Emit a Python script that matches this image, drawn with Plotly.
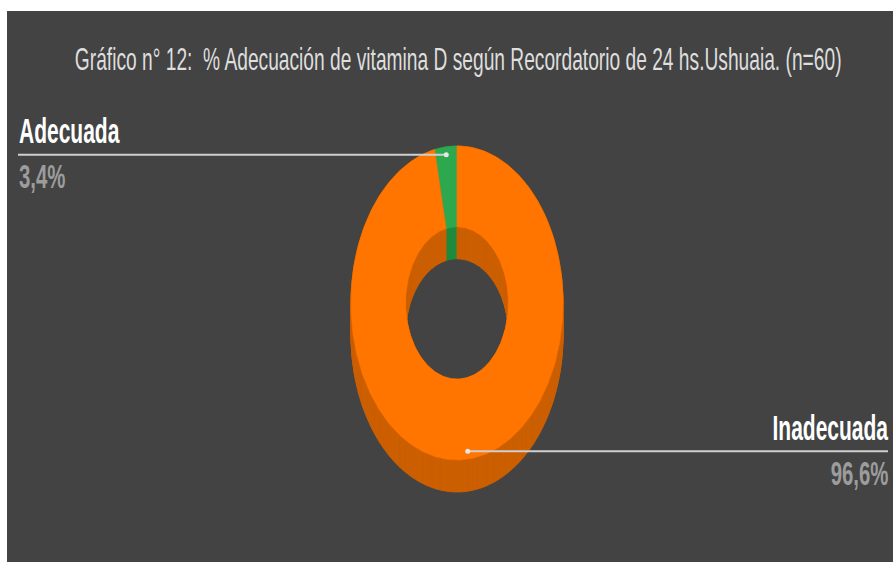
import numpy as np
import plotly.graph_objects as go

# ---- data ----
categorias = ["Adecuada", "Inadecuada"]
porcentajes = [3.4, 96.6]
titulo = "Gráfico n° 12:  % Adecuación de vitamina D según Recordatorio de 24 hs.Ushuaia. (n=60)"

# ---- style / layout ----
W, H = 894, 562
FONDO = "#434343"
COLOR_CARA = ["#2ea84f", "#ff7500"]
COLOR_LADO = ["#1f8a3d", "#cc5f00"]
COLOR_LINEA = "#cfcfcf"
FUENTE = "Liberation Sans, Arial, sans-serif"

# donut geometry (plot units = pixels)
CX, CY = 457.0, 303.0
RX, RY = 106.0, 157.0
HUECO = 0.485
PROF = 32.0
PASO = 1.0  # degrees per wall segment


def punto(theta, esc, dy=0.0):
    t = np.radians(theta)
    return CX + esc * RX * np.sin(t), CY - esc * RY * np.cos(t) + dy


def paredes(t0, t1, esc):
    n = max(2, int(abs(t1 - t0) / PASO) + 1)
    th = np.linspace(t0, t1, n)
    xs, ys = [], []
    for a, b in zip(th[:-1], th[1:]):
        xa, ya = punto(a, esc)
        xb, yb = punto(b, esc)
        xs += [xa, xb, xb, xa, xa, None]
        ys += [ya, yb, yb + PROF, ya + PROF, ya, None]
    return xs, ys


def sector(t0, t1):
    n = max(2, int(abs(t1 - t0) / PASO) + 1)
    th = np.linspace(t0, t1, n)
    xo, yo = punto(th, 1.0)
    xi, yi = punto(th[::-1], HUECO)
    return list(xo) + list(xi) + [xo[0]], list(yo) + list(yi) + [yo[0]]


fig = go.Figure()

total = sum(porcentajes)
cortes = []
inicio = 0.0
for v in porcentajes:
    fin = inicio - v / total * 360.0  # slices run counter-clockwise from 12 o'clock
    cortes.append((inicio, fin))
    inicio = fin

# side walls (outer and inner), darker shade
for (t0, t1), col in zip(cortes, COLOR_LADO):
    for esc in (1.0, HUECO):
        xs, ys = paredes(t0, t1, esc)
        fig.add_trace(go.Scatter(x=xs, y=ys, mode="lines", fill="toself",
                                 fillcolor=col, line=dict(color=col, width=0.8),
                                 hoverinfo="skip", showlegend=False))

# top face of each slice
for (t0, t1), col in zip(cortes, COLOR_CARA):
    xs, ys = sector(t0, t1)
    fig.add_trace(go.Scatter(x=xs, y=ys, mode="lines", fill="toself",
                             fillcolor=col, line=dict(color=col, width=0.6),
                             hoverinfo="skip", showlegend=False))

# leader lines and labels
anotaciones = []
for cat, v, (t0, t1) in zip(categorias, porcentajes, cortes):
    medio = (t0 + t1) / 2
    ax, ay = punto(medio, 0.95)
    izquierda = np.sin(np.radians(medio)) < 0
    xl = 18 if izquierda else 888
    fig.add_trace(go.Scatter(x=[xl, ax], y=[ay, ay], mode="lines",
                             line=dict(color=COLOR_LINEA, width=2),
                             hoverinfo="skip", showlegend=False))
    fig.add_trace(go.Scatter(x=[ax], y=[ay], mode="markers",
                             marker=dict(color="#e6e6e6", size=5),
                             hoverinfo="skip", showlegend=False))
    xanchor = "left" if izquierda else "right"
    align = "left" if izquierda else "right"
    tx = 19 if izquierda else 888
    texto_valor = f"{v:.1f}".replace(".", ",") + "%"
    anotaciones.append(dict(x=tx, y=ay - 12 - 0.3465 * 35, xref="x", yref="y",
                            text=f"<b>{cat}</b>", showarrow=False,
                            xanchor=xanchor, yanchor="middle", align=align,
                            borderpad=0, borderwidth=0,
                            font=dict(family=FUENTE, size=35, color="#ffffff")))
    anotaciones.append(dict(x=tx, y=ay + 33 - 0.3465 * 34, xref="x", yref="y",
                            text=f"<b>{texto_valor}</b>", showarrow=False,
                            xanchor=xanchor, yanchor="middle", align=align,
                            borderpad=0, borderwidth=0,
                            font=dict(family=FUENTE, size=34, color="#9c9c9c")))

anotaciones.append(dict(x=458, y=70 - 0.3465 * 32, xref="x", yref="y",
                        text=titulo, showarrow=False, xanchor="center",
                        yanchor="middle", align="center", borderpad=0, borderwidth=0,
                        font=dict(family=FUENTE, size=32, color="#dedede")))

fig.update_layout(
    width=W, height=H,
    margin=dict(l=0, r=0, t=0, b=0),
    paper_bgcolor="#ffffff",
    plot_bgcolor="rgba(0,0,0,0)",
    xaxis=dict(range=[0, W], visible=False, fixedrange=True),
    yaxis=dict(range=[H, 0], visible=False, fixedrange=True),
    shapes=[dict(type="rect", xref="x", yref="y", x0=7, x1=893, y0=11, y1=H,
                 fillcolor=FONDO, line=dict(width=0), layer="below")],
    annotations=anotaciones,
    showlegend=False,
)

# condensed lettering
estilo = (
    "text.annotation-text{transform-box:fill-box;transform:scaleX(0.6);}"
    "text.annotation-text[text-anchor='start']{transform-origin:left center;}"
    "text.annotation-text[text-anchor='end']{transform-origin:right center;}"
    "text.annotation-text[text-anchor='middle']{transform-origin:center center;}"
)
js = ("var s=document.createElement('style');s.textContent=\"" + estilo +
      "\";document.head.appendChild(s);")

fig.write_html("out.html", config={"displayModeBar": False}, post_script=js)
